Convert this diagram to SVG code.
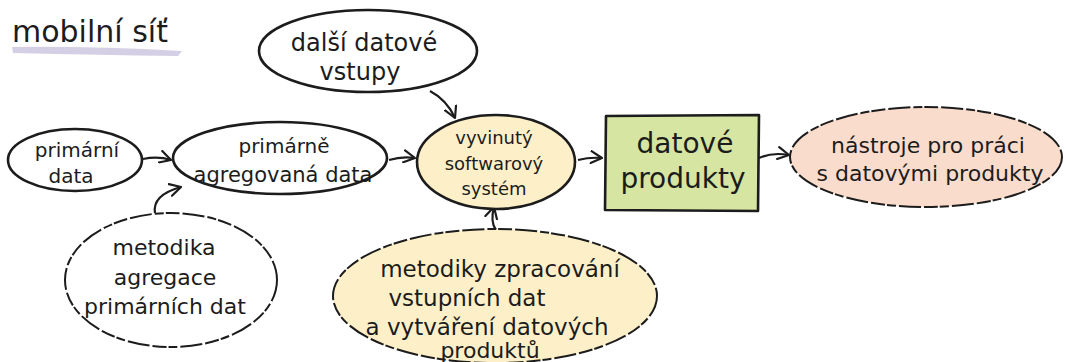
<svg xmlns="http://www.w3.org/2000/svg" width="1066" height="362" viewBox="0 0 1066 362">
<style>
text{font-family:"DejaVu Sans","Liberation Sans",sans-serif;fill:#1c1c1c;text-anchor:middle}
.solid{fill:#fff;stroke:#1c1c1c;stroke-width:2.6}
.rough{stroke:#1c1c1c;stroke-width:2;stroke-dasharray:22 3 9 2 14 3}
.yellow{fill:#fdf0c9}
.peach{fill:#f9dccc}
.white{fill:#fff}
.conn{fill:none;stroke:#1c1c1c;stroke-width:2.2;marker-end:url(#arr)}
</style>
<defs>
<marker id="arr" viewBox="0 0 14 14" refX="12" refY="7" markerWidth="14" markerHeight="14" markerUnits="userSpaceOnUse" orient="auto">
<path d="M1,1 L12,7 L1,13" fill="none" stroke="#1c1c1c" stroke-width="2.2" stroke-linecap="round" stroke-linejoin="round"/>
</marker>
</defs>
<rect width="1066" height="362" fill="#fff"/>
<g id="title">
<path d="M12,47 Q90,46 182,51 L178,56 Q100,55 13,53 Z" fill="#cdc7df" opacity="0.85"/>
<text x="12" y="42" font-size="30" style="text-anchor:start">mobilní síť</text>
</g>
<g id="connectors">
<path class="conn" d="M143,159 Q158,156 171,160"/>
<path class="conn" d="M155,213 Q152,195 181,187"/>
<path class="conn" d="M389,160 Q402,156 415,158"/>
<path class="conn" d="M430,91 Q447,100 455,118"/>
<path class="conn" d="M496,230 Q490,222 494,207"/>
<path class="conn" d="M578,160 Q590,157 602,158"/>
<path class="conn" d="M759,158 Q772,152 789,155"/>
</g>
<g id="primarni-data">
<ellipse class="solid" cx="75" cy="160" rx="67" ry="31"/>
<text x="77" y="157" font-size="20">primární</text>
<text x="71" y="183" font-size="20">data</text>
</g>
<g id="agregovana-data">
<ellipse class="solid" cx="280" cy="158" rx="107" ry="36"/>
<text x="284" y="153" font-size="20">primárně</text>
<text x="283" y="182" font-size="21">agregovaná data</text>
</g>
<g id="dalsi-vstupy">
<ellipse class="solid" cx="368" cy="51" rx="109" ry="41"/>
<text x="364" y="51" font-size="24">další datové</text>
<text x="360" y="80" font-size="24">vstupy</text>
</g>
<g id="system">
<ellipse class="solid yellow" cx="496" cy="162" rx="79" ry="47"/>
<text x="494" y="144" font-size="18">vyvinutý</text>
<text x="494" y="170" font-size="18">softwarový</text>
<text x="494" y="195" font-size="18">systém</text>
</g>
<g id="datove-produkty">
<path d="M606,116 L759,115 L758,211 L605,210 Z" fill="#d6e5a1" stroke="#1c1c1c" stroke-width="2.6" stroke-linejoin="round"/>
<text x="685" y="153" font-size="28">datové</text>
<text x="683" y="188" font-size="28">produkty</text>
</g>
<g id="nastroje">
<ellipse class="rough peach" cx="926" cy="157" rx="136" ry="50"/>
<text x="928" y="153" font-size="22">nástroje pro práci</text>
<text x="930" y="181" font-size="22">s datovými produkty</text>
</g>
<g id="metodika-agregace">
<ellipse class="rough white" cx="171" cy="280" rx="106" ry="67"/>
<text x="164" y="255" font-size="22">metodika</text>
<text x="165" y="285" font-size="22">agregace</text>
<text x="165" y="314" font-size="22">primárních dat</text>
</g>
<g id="metodiky-zpracovani">
<ellipse class="rough yellow" cx="495" cy="296" rx="162" ry="67"/>
<text x="500" y="277" font-size="23">metodiky zpracování</text>
<text x="467" y="306" font-size="23">vstupních dat</text>
<text x="487" y="335" font-size="23">a vytváření datových</text>
<text x="490" y="358" font-size="22">produktů</text>
</g>
</svg>
